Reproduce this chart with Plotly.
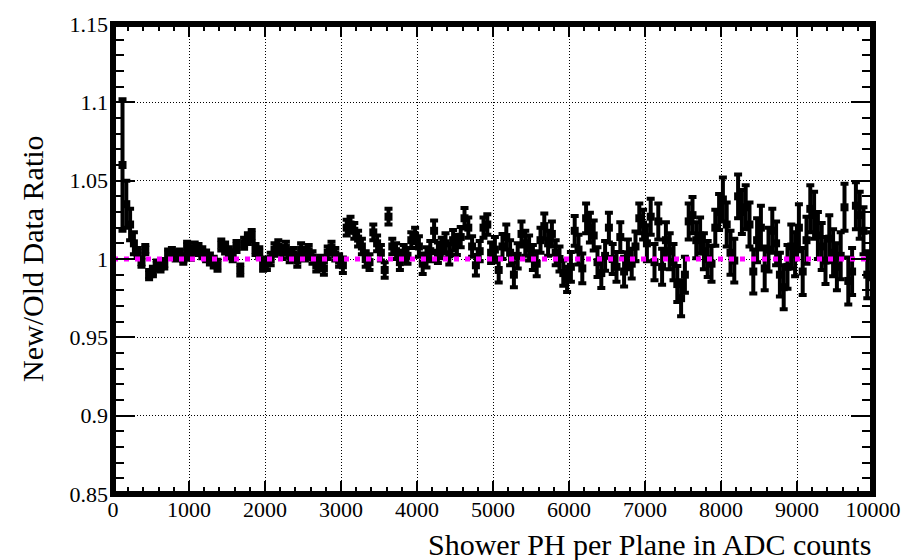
import plotly.graph_objects as go

# ---------------- data ----------------
BIN_LOW = 100          # first filled bin lower edge (ADC)
BIN_WIDTH = 50         # bin width (ADC)
ratio = [
    1.060, 1.035, 1.022, 1.010, 1.004, 0.998, 1.006, 0.990, 0.992, 0.996,
    0.995, 0.997, 1.003, 1.004, 1.002, 1.003, 1.000, 1.008, 1.003, 1.007,
    1.006, 1.004, 1.002, 1.000, 0.998, 0.996, 1.009, 1.007, 1.004, 1.002,
    1.008, 0.993, 1.010, 1.013, 1.015, 1.006, 1.004, 0.996, 0.997, 1.000,
    1.006, 1.008, 1.004, 1.007, 1.002, 1.003, 0.999, 1.006, 1.003, 1.005,
    1.001, 0.996, 0.998, 0.994, 1.004, 1.007, 1.003, 0.999, 0.996, 1.020,
    1.022, 1.018, 1.013, 1.008, 1.000, 0.998, 1.017, 1.010, 1.004, 0.993,
    1.027, 1.008, 1.005, 0.998, 1.004, 1.002, 1.012, 1.015, 1.008, 0.997,
    1.001, 1.005, 1.018, 1.004, 1.007, 1.010, 1.003, 1.012, 1.009, 1.014,
    1.026, 1.020, 1.008, 0.996, 1.005, 1.020, 1.022, 1.004, 1.006, 0.993,
    1.008, 1.014, 1.004, 0.990, 1.002, 1.016, 1.010, 1.007, 1.001, 0.997,
    1.012, 1.021, 1.010, 1.016, 1.004, 1.000, 0.991, 0.987, 0.995, 1.018,
    1.006, 0.994, 1.026, 1.020, 1.015, 0.998, 0.991, 1.002, 1.020, 1.000,
    0.995, 1.014, 0.992, 1.003, 0.997, 1.008, 1.026, 1.022, 1.010, 1.027,
    0.998, 1.024, 0.995, 1.012, 1.005, 0.998, 0.984, 0.975, 0.990, 1.024,
    1.028, 1.012, 1.015, 1.005, 1.000, 0.997, 1.020, 1.030, 1.038, 1.022,
    1.004, 0.999, 1.040, 1.030, 1.033, 1.022, 0.992, 1.012, 1.020, 0.994,
    1.006, 1.018, 1.010, 0.990, 0.982, 0.995, 1.008, 1.003, 1.020, 0.992,
    1.012, 1.032, 1.028, 1.015, 1.008, 0.999, 1.013, 1.004, 0.995, 1.002,
    1.033, 0.986, 0.992, 1.034, 1.028, 1.018, 0.990, 1.002,
]
# errors of the first (steep) bins, then typical error per 1000-ADC block
first_errors = [0.042, 0.015, 0.010, 0.007]
block_errors = [0.003, 0.0035, 0.004, 0.005, 0.0065, 0.008, 0.0095, 0.0115, 0.014, 0.015]

X_RANGE = [0, 10000]
Y_RANGE = [0.85, 1.15]
REF_LEVEL = 1.0
x_ticks = [0, 1000, 2000, 3000, 4000, 5000, 6000, 7000, 8000, 9000, 10000]
x_tick_text = ["0", "1000", "2000", "3000", "4000", "5000", "6000", "7000", "8000", "9000", "10000"]
y_ticks = [0.85, 0.9, 0.95, 1.0, 1.05, 1.1, 1.15]
y_tick_text = ["0.85", "0.9", "0.95", "1", "1.05", "1.1", "1.15"]

x_centers = [BIN_LOW + BIN_WIDTH * (i + 0.5) for i in range(len(ratio))]
errors = []
for i, xc in enumerate(x_centers):
    if i < len(first_errors):
        errors.append(first_errors[i])
    else:
        errors.append(block_errors[min(int(xc // 1000), len(block_errors) - 1)])

FONT = "Liberation Serif"

fig = go.Figure()
fig.add_trace(go.Scatter(
    x=x_centers, y=ratio, mode="markers",
    marker=dict(symbol="square", size=8, color="black"),
    error_y=dict(type="data", array=errors, visible=True,
                 color="black", thickness=4, width=4),
    showlegend=False, hoverinfo="x+y",
))
fig.add_trace(go.Scatter(
    x=X_RANGE, y=[REF_LEVEL, REF_LEVEL], mode="lines",
    line=dict(color="#ff00ff", width=5, dash="5px,6px"),
    showlegend=False, hoverinfo="skip",
))

axis_common = dict(
    showline=False, mirror="allticks",
    ticks="inside", tickcolor="black", tickwidth=1.5,
    showgrid=True, gridcolor="black", gridwidth=1, griddash="1px,2px",
    zeroline=False,
    tickfont=dict(family=FONT, size=22, color="black"),
)

fig.update_xaxes(
    range=X_RANGE, tickvals=x_ticks, ticktext=x_tick_text, ticklen=13,
    ticklabelstandoff=0,
    minor=dict(ticks="inside", ticklen=7, dtick=200, tickcolor="black", tickwidth=1.5, showgrid=False),
    **axis_common,
)
fig.update_yaxes(
    range=Y_RANGE, tickvals=y_ticks, ticktext=y_tick_text, ticklen=22,
    ticklabelstandoff=4,
    minor=dict(ticks="inside", ticklen=11, dtick=0.01, tickcolor="black", tickwidth=1.5, showgrid=False),
    **axis_common,
)

# thick frame around the plot area
fig.add_shape(type="rect", xref="paper", yref="paper", x0=0, y0=0, x1=1, y1=1,
              line=dict(color="black", width=6), fillcolor="rgba(0,0,0,0)", layer="above")

fig.add_annotation(
    text="Shower PH per Plane in ADC counts", xref="paper", yref="paper",
    x=1, y=0, xanchor="right", yanchor="middle", yshift=-50, showarrow=False,
    font=dict(family=FONT, size=30, color="black"),
)
fig.add_annotation(
    text="New/Old Data Ratio", xref="paper", yref="paper",
    x=0, y=0.5, xanchor="center", yanchor="middle", xshift=-81, textangle=-90,
    showarrow=False, font=dict(family=FONT, size=30, color="black"),
)

fig.update_layout(
    width=921, height=560,
    margin=dict(l=113, r=48, t=20, b=66),
    paper_bgcolor="white", plot_bgcolor="white",
    font=dict(family=FONT, color="black"),
)

fig.write_html("out.html")
